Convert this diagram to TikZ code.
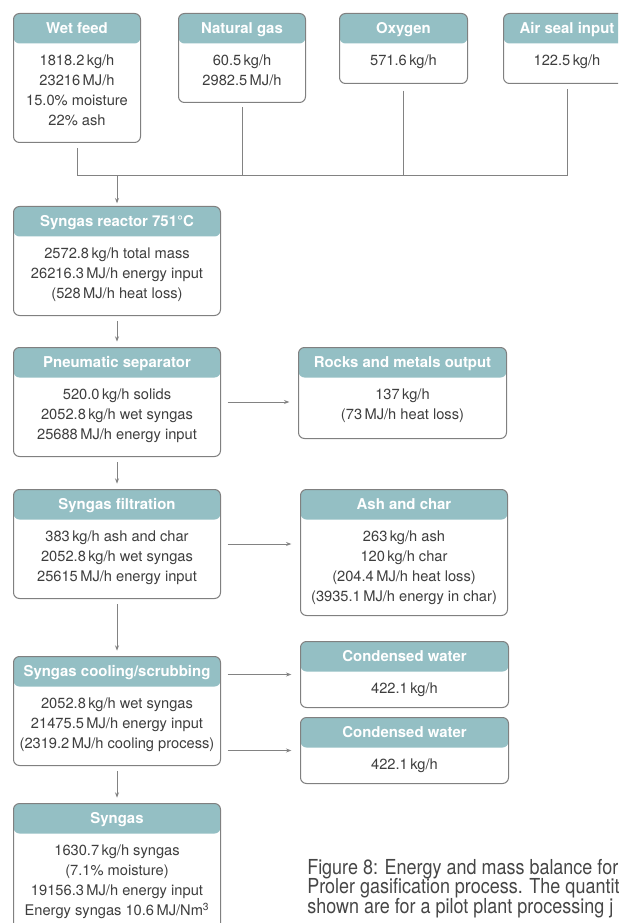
\documentclass[tikz,border=0pt]{standalone}
\usepackage{fontspec}
\setmainfont{TeX Gyre Heros}
\newfontfamily\capfamily{TeX Gyre Heros}[FakeStretch=0.87]
\usepackage{tikz}
\usetikzlibrary{calc,arrows.meta}

\definecolor{headteal}{RGB}{148,191,196}
\definecolor{boxline}{RGB}{128,128,128}
\definecolor{bodygray}{RGB}{62,62,62}
\definecolor{linegray}{RGB}{130,130,130}
\definecolor{captext}{RGB}{70,70,70}

\newcommand{\boxfont}{\fontsize{11}{15}\selectfont}
\newcommand{\headfont}{\fontsize{11.2}{14}\selectfont\bfseries}
\newcommand{\capfont}{\capfamily\fontsize{15.5}{15}\selectfont}

\begin{document}
\begin{tikzpicture}[x=0.75pt, y=-0.75pt,
        flowbox/.style={draw=boxline, line width=0.75pt, rounded corners=4.5pt,
            anchor=north west, inner sep=0pt, fill=white,
            path picture={\fill[headteal] (path picture bounding box.north west)
                rectangle ([yshift=-22.5pt]path picture bounding box.north east);}},
        boxsize/.style 2 args={minimum width=#1*0.75pt, minimum height=#2*0.75pt},
        headtext/.style={font=\headfont, text=white, anchor=base, yshift=-15.3pt, inner sep=0pt},
        bodytext/.style={font=\boxfont, text=bodygray, align=center, anchor=north,
            yshift=-28.6pt, inner sep=0pt},
        captionline/.style={font=\capfont, text=captext, anchor=base west, inner sep=0pt},
        link/.style={draw=linegray, line width=0.75pt},
        flow/.style={link, -{Stealth[length=4pt, width=3pt]}}]

        % Box sizes (pixels of the reference)
        \pgfmathsetmacro{\inw}{127}
        \pgfmathsetmacro{\colw}{207}
        \pgfmathsetmacro{\sidew}{208}

        % Page frame, everything past it is cut
        \useasboundingbox (0,0) rectangle (618,923);
        \clip (0,0) rectangle (618,923);

        % Inputs along the top
        \begin{scope}
            \node[flowbox, boxsize={\inw}{129}] (wet) at (13,13) {};
            \node[headtext] (wettitle) at (wet.north) {Wet feed};
            \node[bodytext] (wetbody) at (wet.north)
                {\strut 1818.2\,kg/h\\23216\,MJ/h\\15.0\% moisture\\22\% ash};

            \node[flowbox, boxsize={\inw}{89}] (natgas) at (178,13) {};
            \node[headtext] (natgastitle) at (natgas.north) {Natural gas};
            \node[bodytext] (natgasbody) at (natgas.north)
                {\strut 60.5\,kg/h\\2982.5\,MJ/h};

            \node[flowbox, boxsize={128}{70}] (oxygen) at (339,13) {};
            \node[headtext] (oxygentitle) at (oxygen.north) {Oxygen};
            \node[bodytext] (oxygenbody) at (oxygen.north) {\strut 571.6\,kg/h};

            \node[flowbox, boxsize={\inw}{70}] (airseal) at (503,13) {};
            \node[headtext] (airsealtitle) at (airseal.north) {Air seal input};
            \node[bodytext] (airsealbody) at (airseal.north) {\strut 122.5\,kg/h};
        \end{scope}

        % Main column
        \begin{scope}
            \node[flowbox, boxsize={\colw}{109}] (reactor) at (13,206) {};
            \node[headtext] (reactortitle) at (reactor.north) {Syngas reactor 751°C};
            \node[bodytext] (reactorbody) at (reactor.north)
                {\strut 2572.8\,kg/h total mass\\26216.3\,MJ/h energy input\\(528\,MJ/h heat loss)};

            \node[flowbox, boxsize={\colw}{109}] (pneum) at (13,347) {};
            \node[headtext] (pneumtitle) at (pneum.north) {Pneumatic separator};
            \node[bodytext] (pneumbody) at (pneum.north)
                {\strut 520.0\,kg/h solids\\2052.8\,kg/h wet syngas\\25688\,MJ/h energy input};

            \node[flowbox, boxsize={\colw}{109}] (filt) at (13,489) {};
            \node[headtext] (filttitle) at (filt.north) {Syngas filtration};
            \node[bodytext] (filtbody) at (filt.north)
                {\strut 383\,kg/h ash and char\\2052.8\,kg/h wet syngas\\25615\,MJ/h energy input};

            \node[flowbox, boxsize={\colw}{109}] (cool) at (13,656) {};
            \node[headtext] (cooltitle) at (cool.north) {Syngas cooling/scrubbing};
            \node[bodytext] (coolbody) at (cool.north)
                {\strut 2052.8\,kg/h wet syngas\\21475.5\,MJ/h energy input\\(2319.2\,MJ/h cooling process)};

            \node[flowbox, boxsize={\colw}{140}] (syngas) at (13,803) {};
            \node[headtext] (syngastitle) at (syngas.north) {Syngas};
            \node[bodytext] (syngasbody) at (syngas.north)
                {\strut 1630.7\,kg/h syngas\\(7.1\% moisture)\\19156.3\,MJ/h energy input\\Energy syngas 10.6\,MJ/Nm\textsuperscript{3}};
        \end{scope}

        % Outputs on the right
        \begin{scope}
            \node[flowbox, boxsize={\sidew}{91}] (rocks) at (298,347) {};
            \node[headtext] (rockstitle) at (rocks.north) {Rocks and metals output};
            \node[bodytext] (rocksbody) at (rocks.north)
                {\strut 137\,kg/h\\(73\,MJ/h heat loss)};

            \node[flowbox, boxsize={\colw}{126}] (ash) at (300,489) {};
            \node[headtext] (ashtitle) at (ash.north) {Ash and char};
            \node[bodytext] (ashbody) at (ash.north)
                {\strut 263\,kg/h ash\\120\,kg/h char\\(204.4\,MJ/h heat loss)\\(3935.1\,MJ/h energy in char)};

            \node[flowbox, boxsize={\sidew}{66}] (water1) at (300,641) {};
            \node[headtext] (water1title) at (water1.north) {Condensed water};
            \node[bodytext] (water1body) at (water1.north) {\strut 422.1\,kg/h};

            \node[flowbox, boxsize={\sidew}{66}] (water2) at (300,717) {};
            \node[headtext] (water2title) at (water2.north) {Condensed water};
            \node[bodytext] (water2body) at (water2.north) {\strut 422.1\,kg/h};
        \end{scope}

        % Inputs join into the reactor
        \coordinate (mix) at (117,176);
        \draw[link, shorten <=4pt, shorten >=4pt] (wet.south) |- (airseal.south |- mix) -- (airseal.south);
        \draw[link, shorten <=3pt] (natgas.south) -- (natgas.south |- mix);
        \draw[link, shorten <=5pt] (oxygen.south) -- (oxygen.south |- mix);
        \draw[flow, shorten >=2pt] (mix) -- (reactor.north);

        % Down the column
        \begin{scope}[shorten <=4pt, shorten >=4pt]
            \draw[flow] (reactor.south) -- (pneum.north);
            \draw[flow] (pneum.south) -- (filt.north);
            \draw[flow] (filt.south) -- (cool.north);
            \draw[flow] (cool.south) -- (syngas.north);
        \end{scope}

        % Side streams
        \begin{scope}[shorten <=5pt, shorten >=6.5pt]
            \draw[flow] (pneum.east) -- (pneum.east -| rocks.west);
            \draw[flow] (filt.east) -- (filt.east -| ash.west);
            \draw[flow] (cool.east |- water1.west) -- (water1.west);
            \draw[flow] (cool.east |- water2.west) -- (water2.west);
        \end{scope}

        % Figure caption, cut at the page edge
        \node[captionline] (caption1) at (307,874) {Figure 8: Energy and mass balance for};
        \node[captionline] (caption2) at (307,893.5) {Proler gasification process. The quantit};
        \node[captionline] (caption3) at (307,913) {shown are for a pilot plant processing j};

    \end{tikzpicture}
\end{document}
